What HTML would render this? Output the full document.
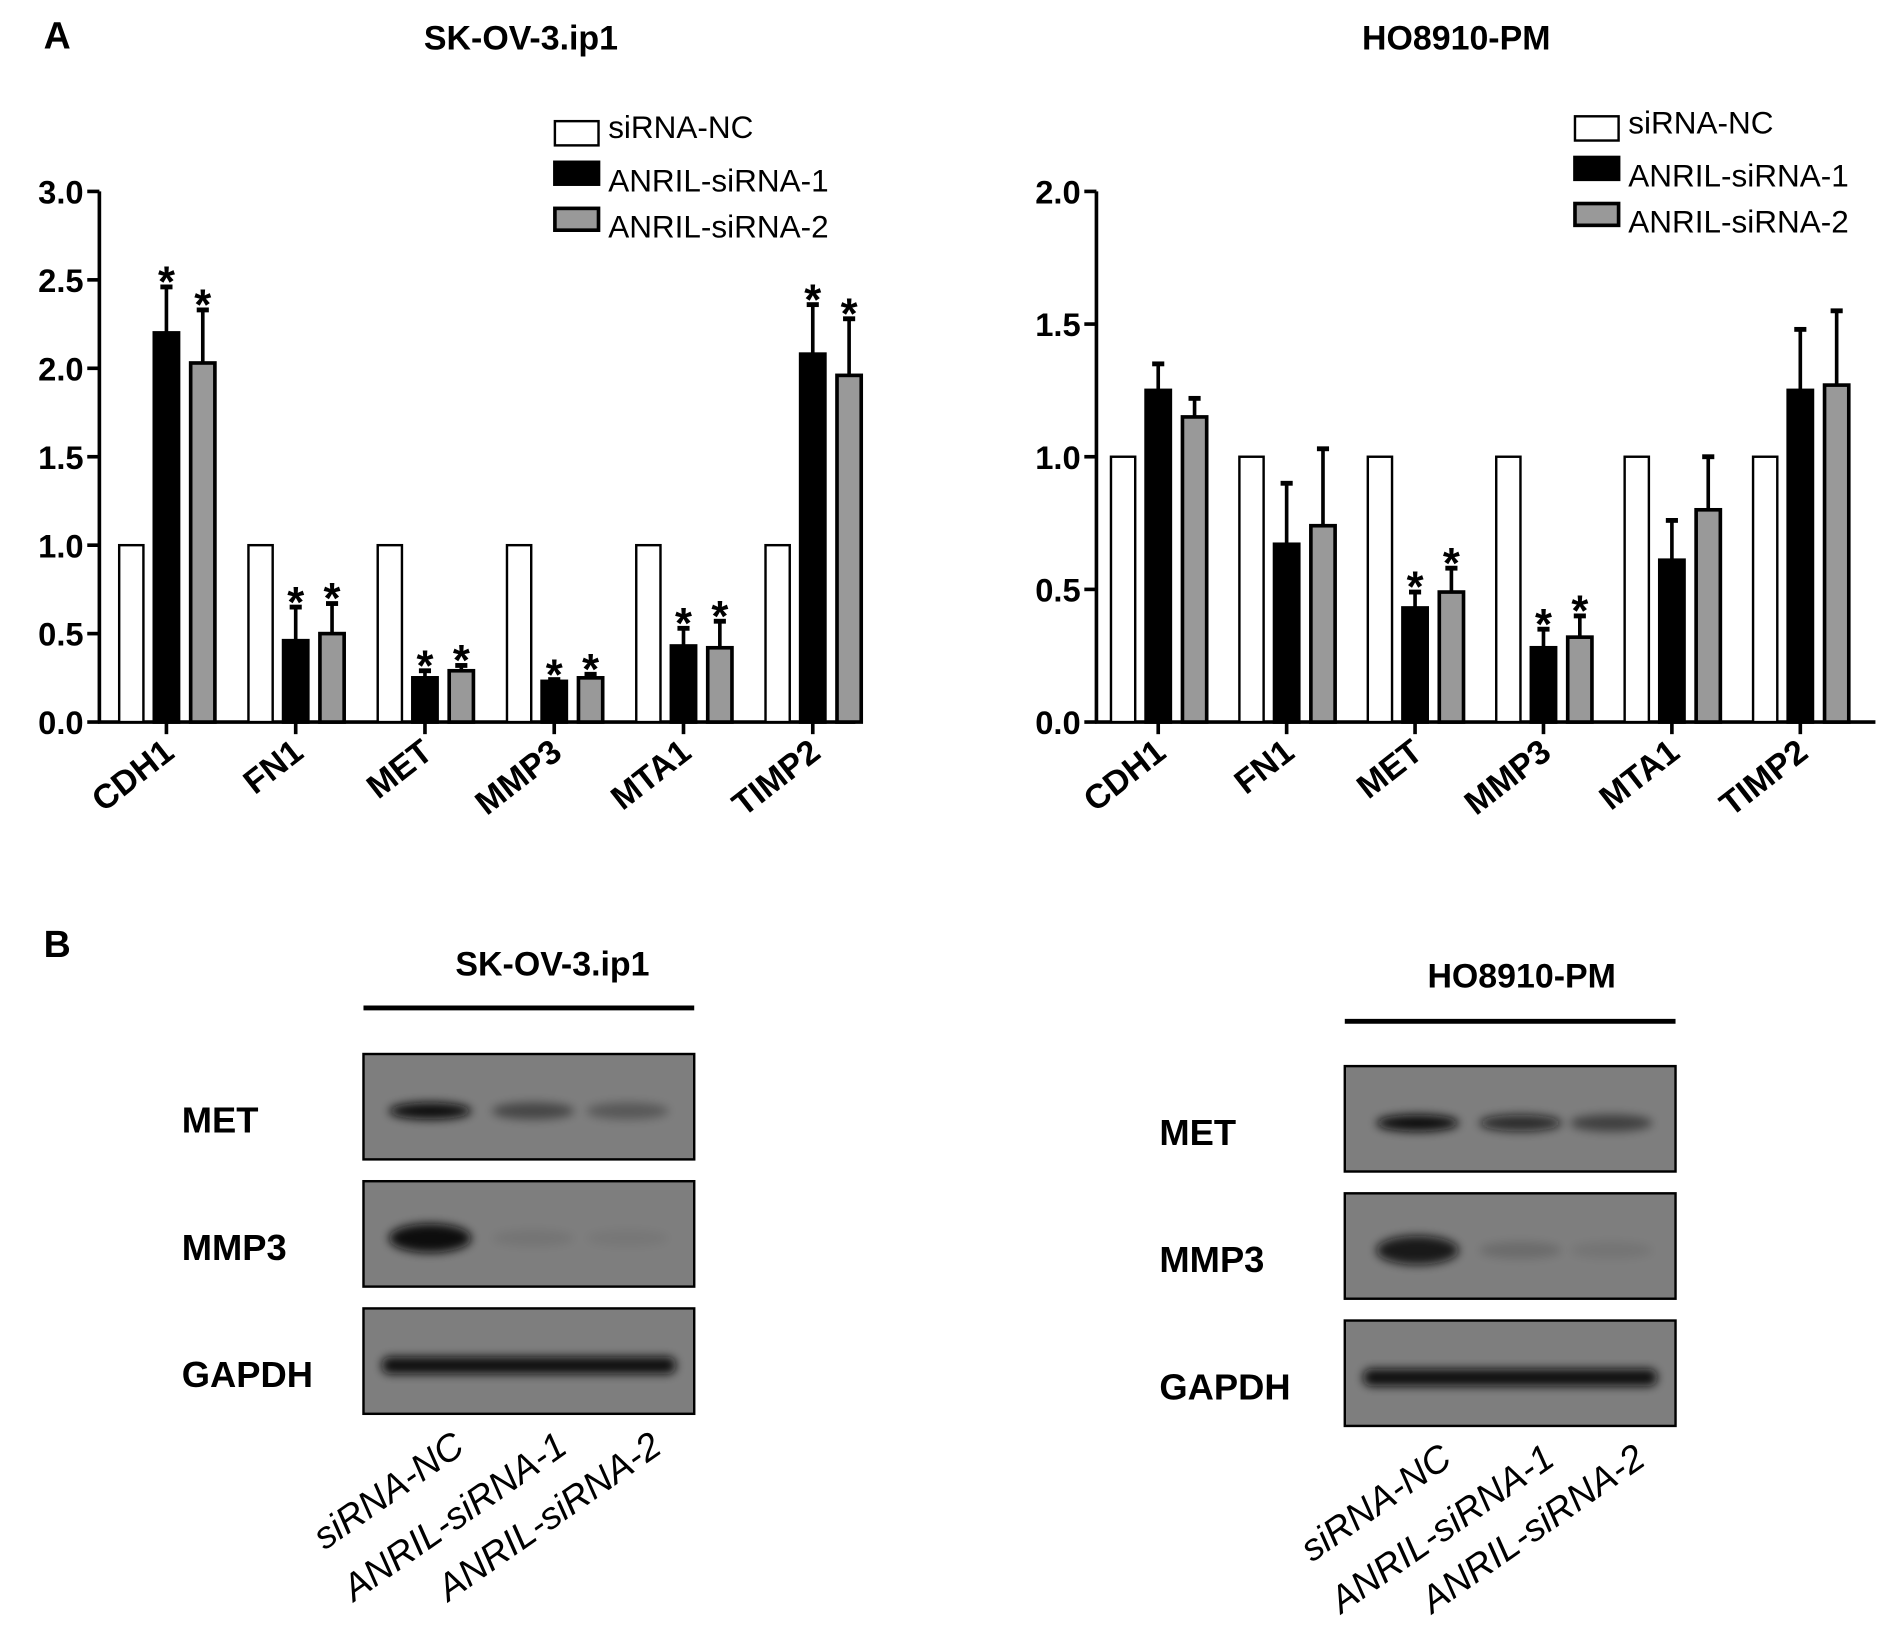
<!DOCTYPE html>
<html><head><meta charset="utf-8"><style>
html,body{margin:0;padding:0;background:#fff}
svg{display:block;font-family:"Liberation Sans",Arial,sans-serif}
</style></head><body>
<svg id="fig" width="1890" height="1644" viewBox="0 0 1560 1357" xmlns="http://www.w3.org/2000/svg">
<defs>
<filter id="blur" x="-50%" y="-100%" width="200%" height="300%"><feGaussianBlur stdDeviation="4"/></filter>
</defs>
<text x="36" y="40" font-size="31" font-weight="bold">A</text>
<text x="36" y="790" font-size="31" font-weight="bold">B</text>
<g id="charts"></g>
<g id="blots"></g>
</svg>
<script>
const NS='http://www.w3.org/2000/svg';
const categories=['CDH1','FN1','MET','MMP3','MTA1','TIMP2'];
const seriesNames=['siRNA-NC','ANRIL-siRNA-1','ANRIL-siRNA-2'];
const leftNC=[1,1,1,1,1,1];
const leftS1=[2.2,0.46,0.25,0.23,0.43,2.08];
const leftS1Err=[0.26,0.19,0.04,0.01,0.1,0.28];
const leftS2=[2.03,0.5,0.29,0.25,0.42,1.96];
const leftS2Err=[0.3,0.17,0.03,0.02,0.15,0.32];
const leftStars1=[1,1,1,1,1,1];
const leftStars2=[1,1,1,1,1,1];
const leftTicks=['0.0','0.5','1.0','1.5','2.0','2.5','3.0'];
const rightNC=[1,1,1,1,1,1];
const rightS1=[1.25,0.67,0.43,0.28,0.61,1.25];
const rightS1Err=[0.1,0.23,0.06,0.07,0.15,0.23];
const rightS2=[1.15,0.74,0.49,0.32,0.8,1.27];
const rightS2Err=[0.07,0.29,0.09,0.08,0.2,0.28];
const rightStars1=[0,0,1,1,0,0];
const rightStars2=[0,0,1,1,0,0];
const rightTicks=['0.0','0.5','1.0','1.5','2.0'];

function el(tag,attrs,parent,text){const e=document.createElementNS(NS,tag);for(const k in attrs)e.setAttribute(k,attrs[k]);if(text!==undefined)e.textContent=text;parent.appendChild(e);return e;}

function chart(o){
  const g=el('g',{},document.getElementById('charts'));
  
  
  const y=v=>o.y0-(v/o.ymax)*(o.y0-o.ytop);
  const xc=i=>o.x1+o.step*(i+0.5);
  const t=el('text',{x:o.titleX,y:41,'font-size':28,'font-weight':'bold','text-anchor':'middle'},g,o.title);
  
  
  const ya=el('line',{x1:o.x0,y1:o.ytop,x2:o.x0,y2:o.y0,stroke:'#000','stroke-width':3},g);
  
  
  const xa=el('line',{x1:o.x0-1,y1:o.y0,x2:o.xend,y2:o.y0,stroke:'#000','stroke-width':3},g);
  
  
  o.ticks.forEach(tl=>{
    const v=parseFloat(tl);
    el('line',{x1:o.x0-10,y1:y(v),x2:o.x0,y2:y(v),stroke:'#000','stroke-width':3},g);
    const tt=el('text',{x:o.x0-13,y:y(v)+10,'font-size':27,'font-weight':'bold','text-anchor':'end'},g,tl);
    
    
  });
  const fills=['#fff','#000','#999'];
  const offs=[-29,0,30];
  const vals=[o.nc,o.s1,o.s2];
  const errs=[null,o.e1,o.e2];
  const stars=[null,o.st1,o.st2];
  categories.forEach((c,i)=>{
    const cx=xc(i);
    el('line',{x1:cx,y1:o.y0,x2:cx,y2:o.y0+10,stroke:'#000','stroke-width':3},g);
    const lx=cx+8,ly=o.y0+28;
    const cl=el('text',{x:lx,y:ly,'font-size':28,'font-weight':'bold','text-anchor':'end',transform:`rotate(-38 ${lx} ${ly})`},g,c);
    
    
    for(let s=0;s<3;s++){
      const v=vals[s][i],bx=cx+offs[s]-10,w=20;
      if(errs[s]){
        const top=y(v+errs[s][i]);
        el('line',{x1:cx+offs[s],y1:top,x2:cx+offs[s],y2:y(v),stroke:'#000','stroke-width':3},g);
        el('line',{x1:cx+offs[s]-5,y1:top,x2:cx+offs[s]+5,y2:top,stroke:'#000','stroke-width':4},g);
        if(stars[s][i]){
          const st=el('text',{x:cx+offs[s],y:top+8,'font-size':36,'font-weight':'bold','text-anchor':'middle'},g,'*');
          
          
        }
      }
      const b=el('rect',{x:bx,y:y(v),width:w,height:o.y0-y(v),fill:fills[s],stroke:'#000','stroke-width':s==0?2:3},g);
      
      
    }
  });
  seriesNames.forEach((n,s)=>{
    const ly=o.legY+s*38;
    const r=el('rect',{x:o.legX,y:ly-12+(s?-4:0),width:36,height:s?18:20,fill:fills[s],stroke:'#000','stroke-width':s?3:2},g);
    
    
    const lt=el('text',{x:o.legX+44,y:ly+8+(s?0:-6),'font-size':26},g,n);
    
    
  });
}
chart({name:'chart-skov3',title:'SK-OV-3.ip1',titleX:430,x0:82,x1:84,xend:706,step:106.7,ytop:158,y0:596,ymax:3,ticks:leftTicks,
  nc:leftNC,s1:leftS1,e1:leftS1Err,s2:leftS2,e2:leftS2Err,st1:leftStars1,st2:leftStars2,legX:458,legY:112});
chart({name:'chart-ho8910',title:'HO8910-PM',titleX:1202,x0:905,x1:903,xend:1548,step:106,ytop:158,y0:596,ymax:2,ticks:rightTicks,
  nc:rightNC,s1:rightS1,e1:rightS1Err,s2:rightS2,e2:rightS2Err,st1:rightStars1,st2:rightStars2,legX:1300,legY:108});

const blotRows=['MET','MMP3','GAPDH'];
const leftBand=[[1,0.45,0.3],[1,0.08,0.06],[1,1,1]];
const rightBand=[[1,0.75,0.5],[0.9,0.15,0.08],[1,1,1]];
function blot(b){
  const g=el('g',{},document.getElementById('blots'));
  
  
  const t=el('text',{x:b.titleX,y:b.titleY,'font-size':28,'font-weight':'bold','text-anchor':'middle'},g,b.title);
  
  
  el('line',{x1:b.x,y1:b.lineY,x2:b.x+273,y2:b.lineY,stroke:'#000','stroke-width':4},g);
  blotRows.forEach((r,i)=>{
    const ry=b.y+i*b.gap;
    const bx=el('rect',{x:b.x,y:ry,width:273,height:87,fill:'#7e7e7e',stroke:'#000','stroke-width':2},g);
    
    
    const lab=el('text',{x:b.labX,y:ry+65,'font-size':30,'font-weight':'bold'},g,r);
    
    
    if(r==='GAPDH'){
      el('rect',{x:b.x+15,y:ry+40,width:243,height:14,rx:7,fill:'#111',filter:'url(#blur)'},g);
    } else {
      b.bands[i].forEach((a,j)=>{
        const cx=b.lanes[j];
        el('ellipse',{cx:cx,cy:ry+47,rx:34,ry:r==='MMP3'&&j==0?12:7,fill:'#0a0a0a','fill-opacity':a,filter:'url(#blur)'},g);
      });
    }
  });
  seriesNames.forEach((n,j)=>{
    const lx=b.lanes[j]+30,ly=b.y+2*b.gap+118;
    const tt=el('text',{x:lx,y:ly,'font-size':31,'font-style':'italic','text-anchor':'end',transform:`rotate(-35 ${lx} ${ly})`},g,n);
    
    
  });
}
blot({name:'blot-skov3',title:'SK-OV-3.ip1',titleX:456,titleY:805,lineY:832,x:300,y:870,gap:105,labX:150,lanes:[355,440,518],bands:leftBand});
blot({name:'blot-ho8910',title:'HO8910-PM',titleX:1256,titleY:815,lineY:843,x:1110,y:880,gap:105,labX:957,lanes:[1170,1255,1330],bands:rightBand});
</script>
</body></html>
